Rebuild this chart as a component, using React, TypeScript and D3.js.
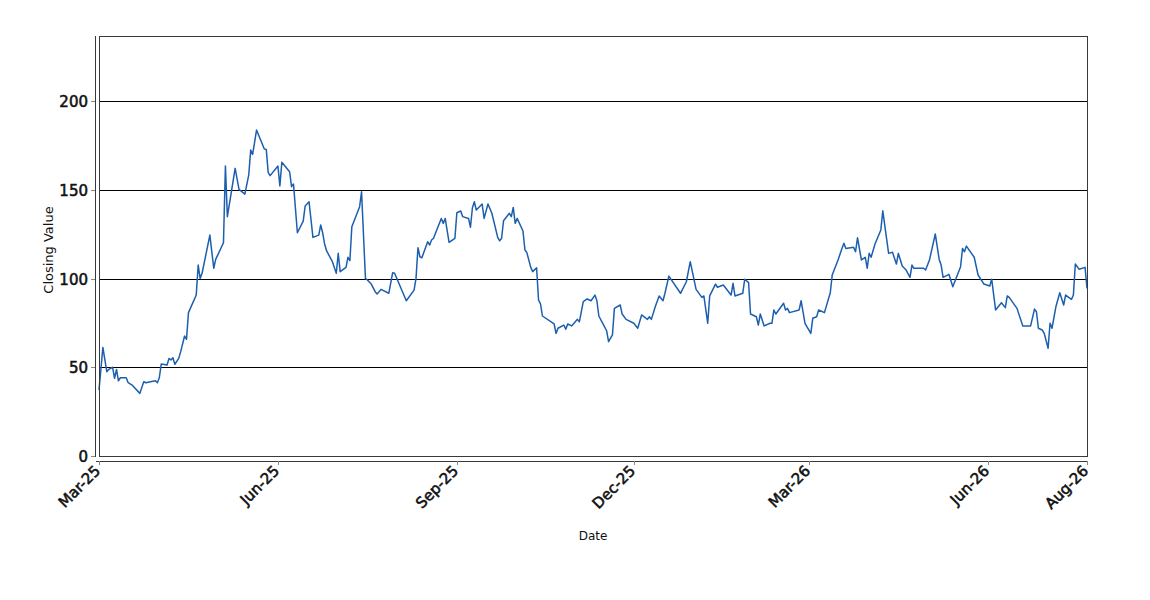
import React, { useEffect, useRef } from 'react';
import * as d3 from 'd3';

// closing values
const dates: string[] = [
  '2025-03-01', '2025-03-03', '2025-03-05', '2025-03-06', '2025-03-08', '2025-03-09', '2025-03-10', '2025-03-11',
  '2025-03-12', '2025-03-15', '2025-03-16', '2025-03-18', '2025-03-22', '2025-03-24', '2025-03-25', '2025-03-30',
  '2025-03-31', '2025-04-01', '2025-04-02', '2025-04-05', '2025-04-06', '2025-04-07', '2025-04-08', '2025-04-09',
  '2025-04-11', '2025-04-12', '2025-04-14', '2025-04-15', '2025-04-16', '2025-04-20', '2025-04-21', '2025-04-22',
  '2025-04-23', '2025-04-27', '2025-04-29', '2025-04-30', '2025-05-04', '2025-05-05', '2025-05-06', '2025-05-10',
  '2025-05-12', '2025-05-15', '2025-05-17', '2025-05-18', '2025-05-19', '2025-05-21', '2025-05-25', '2025-05-26',
  '2025-05-27', '2025-05-28', '2025-06-01', '2025-06-02', '2025-06-03', '2025-06-07', '2025-06-08', '2025-06-09',
  '2025-06-11', '2025-06-14', '2025-06-15', '2025-06-17', '2025-06-19', '2025-06-22', '2025-06-23', '2025-06-24',
  '2025-06-25', '2025-06-26', '2025-06-29', '2025-07-01', '2025-07-02', '2025-07-03', '2025-07-06', '2025-07-07',
  '2025-07-08', '2025-07-09', '2025-07-13', '2025-07-14', '2025-07-16', '2025-07-17', '2025-07-19', '2025-07-21',
  '2025-07-22', '2025-07-24', '2025-07-28', '2025-07-30', '2025-07-31', '2025-08-06', '2025-08-10', '2025-08-11',
  '2025-08-12', '2025-08-13', '2025-08-14', '2025-08-17', '2025-08-18', '2025-08-19', '2025-08-20', '2025-08-24',
  '2025-08-25', '2025-08-26', '2025-08-28', '2025-08-31', '2025-09-01', '2025-09-03', '2025-09-04', '2025-09-07',
  '2025-09-08', '2025-09-09', '2025-09-10', '2025-09-11', '2025-09-14', '2025-09-15', '2025-09-17', '2025-09-19',
  '2025-09-22', '2025-09-23', '2025-09-24', '2025-09-25', '2025-09-28', '2025-09-29', '2025-09-30', '2025-10-01',
  '2025-10-02', '2025-10-05', '2025-10-06', '2025-10-07', '2025-10-09', '2025-10-10', '2025-10-12', '2025-10-13',
  '2025-10-14', '2025-10-15', '2025-10-21', '2025-10-22', '2025-10-23', '2025-10-26', '2025-10-27', '2025-10-28',
  '2025-10-30', '2025-11-02', '2025-11-03', '2025-11-05', '2025-11-07', '2025-11-09', '2025-11-11', '2025-11-12',
  '2025-11-13', '2025-11-15', '2025-11-17', '2025-11-18', '2025-11-20', '2025-11-21', '2025-11-24', '2025-11-25',
  '2025-11-27', '2025-12-01', '2025-12-03', '2025-12-05', '2025-12-08', '2025-12-09', '2025-12-10', '2025-12-12',
  '2025-12-14', '2025-12-16', '2025-12-17', '2025-12-19', '2025-12-25', '2025-12-28', '2025-12-30', '2026-01-02',
  '2026-01-05', '2026-01-06', '2026-01-08', '2026-01-09', '2026-01-12', '2026-01-13', '2026-01-16', '2026-01-20',
  '2026-01-21', '2026-01-22', '2026-01-26', '2026-01-27', '2026-01-29', '2026-01-30', '2026-02-02', '2026-02-03',
  '2026-02-04', '2026-02-06', '2026-02-09', '2026-02-10', '2026-02-11', '2026-02-12', '2026-02-16', '2026-02-17',
  '2026-02-18', '2026-02-19', '2026-02-24', '2026-02-25', '2026-02-27', '2026-03-02', '2026-03-03', '2026-03-05',
  '2026-03-06', '2026-03-09', '2026-03-12', '2026-03-13', '2026-03-16', '2026-03-18', '2026-03-19', '2026-03-20',
  '2026-03-24', '2026-03-25', '2026-03-26', '2026-03-28', '2026-03-30', '2026-03-31', '2026-04-01', '2026-04-02',
  '2026-04-04', '2026-04-07', '2026-04-08', '2026-04-11', '2026-04-13', '2026-04-15', '2026-04-16', '2026-04-18',
  '2026-04-20', '2026-04-22', '2026-04-23', '2026-04-24', '2026-04-29', '2026-04-30', '2026-05-02', '2026-05-05',
  '2026-05-07', '2026-05-08', '2026-05-09', '2026-05-12', '2026-05-14', '2026-05-16', '2026-05-18', '2026-05-19',
  '2026-05-20', '2026-05-21', '2026-05-25', '2026-05-27', '2026-05-30', '2026-06-02', '2026-06-03', '2026-06-05',
  '2026-06-08', '2026-06-10', '2026-06-11', '2026-06-12', '2026-06-16', '2026-06-19', '2026-06-23', '2026-06-25',
  '2026-06-26', '2026-06-27', '2026-06-29', '2026-06-30', '2026-07-02', '2026-07-03', '2026-07-04', '2026-07-06',
  '2026-07-08', '2026-07-10', '2026-07-11', '2026-07-14', '2026-07-15', '2026-07-16', '2026-07-18', '2026-07-21',
  '2026-07-22',
];

const closing: number[] = [
  37.2, 61.2, 47.5, 48.8, 50.0, 43.8, 48.8, 42.4,
  44.1, 44.1, 41.3, 40.0, 35.3, 41.9, 41.3, 42.4,
  41.3, 44.1, 51.8, 51.3, 55.0, 54.1, 55.4, 51.7,
  55.0, 58.8, 67.6, 65.8, 80.8, 90.7, 107.6, 100.1,
  103.0, 124.5, 105.8, 110.8, 120.2, 163.4, 134.9, 162.1,
  150.3, 147.6, 158.4, 172.4, 170.0, 183.7, 173.0, 172.8,
  159.7, 158.0, 163.4, 152.2, 165.5, 160.2, 151.8, 153.3,
  125.8, 132.4, 140.9, 143.3, 123.2, 124.5, 130.2, 125.8,
  119.5, 115.7, 109.5, 103.0, 114.2, 103.9, 106.3, 112.0,
  110.1, 129.2, 140.5, 148.9, 100.1, 99.2, 96.9, 92.6,
  91.3, 93.9, 91.7, 103.3, 103.0, 87.5, 93.5, 100.1,
  117.4, 112.3, 111.7, 120.8, 118.9, 121.7, 122.7, 133.9,
  131.1, 133.9, 120.4, 122.7, 137.1, 138.1, 134.9, 133.9,
  128.9, 139.9, 143.3, 138.6, 142.0, 133.9, 142.0, 136.8,
  123.2, 121.3, 122.7, 132.6, 136.8, 134.9, 140.1, 131.1,
  133.9, 126.8, 116.1, 114.6, 106.3, 103.9, 106.1, 87.9,
  85.7, 78.9, 74.4, 69.1, 72.0, 73.8, 71.4, 74.4,
  73.3, 77.0, 75.7, 87.0, 88.5, 87.5, 90.7, 87.5,
  78.9, 74.8, 70.6, 64.4, 68.2, 83.2, 85.1, 80.0,
  77.0, 74.8, 72.0, 79.5, 77.0, 78.5, 77.0, 84.1,
  90.2, 87.5, 91.7, 101.4, 91.7, 98.2, 109.5, 93.9,
  89.4, 90.2, 74.8, 90.2, 96.9, 95.1, 96.4, 90.7,
  97.3, 90.2, 91.7, 99.6, 97.7, 80.0, 78.5, 73.8,
  80.0, 73.3, 74.8, 74.8, 82.3, 80.0, 86.1, 82.3,
  83.2, 80.8, 82.3, 87.5, 74.8, 69.1, 77.6, 78.5,
  82.3, 80.8, 92.0, 102.0, 110.5, 117.0, 119.9, 117.0,
  117.6, 115.1, 123.0, 110.5, 112.0, 105.8, 114.2, 112.0,
  119.5, 127.4, 138.2, 114.2, 114.8, 108.2, 114.2, 107.1,
  104.8, 100.7, 107.6, 105.8, 105.8, 104.8, 110.5, 125.1,
  110.8, 107.6, 100.7, 102.4, 95.4, 101.0, 106.7, 117.0,
  115.1, 118.3, 112.0, 102.0, 96.9, 95.8, 99.6, 82.3,
  86.4, 83.6, 90.2, 89.4, 83.2, 73.3, 73.3, 82.8,
  81.3, 72.0, 71.0, 69.1, 60.7, 74.8, 72.0, 84.1,
  92.0, 85.1, 90.7, 88.3, 90.7, 108.2, 105.2, 106.3,
  94.5,
];

const yTicks = [0, 50, 100, 150, 200];
const xTickDates = ['2025-03-01', '2025-06-01', '2025-09-01', '2025-12-01', '2026-03-01', '2026-06-01', '2026-07-22'];
const xTickLabels = ['Mar-25', 'Jun-25', 'Sep-25', 'Dec-25', 'Mar-26', 'Jun-26', 'Aug-26'];

const WIDTH = 1150;
const HEIGHT = 600;
const PLOT = { left: 99, top: 36, right: 1087, bottom: 456 };
const Y_MAX = 236.7;
const FONT = '"DejaVu Sans", sans-serif';

const App: React.FC = () => {
  const svgRef = useRef<SVGSVGElement>(null);

  useEffect(() => {
    if (!svgRef.current) return;
    const svg = d3.select(svgRef.current);
    svg.selectAll('*').remove();

    const parse = d3.utcParse('%Y-%m-%d');
    const data = dates.map((d, i) => ({ date: parse(d) as Date, value: closing[i] }));

    const x = d3.scaleUtc()
      .domain([parse(xTickDates[0]) as Date, parse(xTickDates[xTickDates.length - 1]) as Date])
      .range([PLOT.left, PLOT.right]);
    const y = d3.scaleLinear().domain([0, Y_MAX]).range([PLOT.bottom, PLOT.top]);

    svg.append('rect')
      .attr('width', WIDTH).attr('height', HEIGHT).attr('fill', '#fff');

    // gridlines (0 sits on the plot border)
    svg.append('g')
      .selectAll('line')
      .data(yTicks.filter(t => t > 0))
      .join('line')
      .attr('x1', PLOT.left).attr('x2', PLOT.right)
      .attr('y1', d => Math.round(y(d)) + 0.5).attr('y2', d => Math.round(y(d)) + 0.5)
      .attr('stroke', '#000').attr('stroke-width', 1);

    // series
    const line = d3.line<{ date: Date; value: number }>()
      .x(d => x(d.date))
      .y(d => y(d.value));

    svg.append('path')
      .datum(data)
      .attr('d', line)
      .attr('fill', 'none')
      .attr('stroke', '#1c5fae')
      .attr('stroke-width', 1.5)
      .attr('stroke-linejoin', 'round');

    // plot outline
    svg.append('rect')
      .attr('x', PLOT.left + 0.5).attr('y', PLOT.top + 0.5)
      .attr('width', PLOT.right - PLOT.left).attr('height', PLOT.bottom - PLOT.top)
      .attr('fill', 'none').attr('stroke', '#3a3a3a').attr('stroke-width', 1);

    // tick label style: regular weight with a hairline stroke to look medium
    const tickText = (sel: d3.Selection<SVGTextElement, unknown, null, undefined>) =>
      sel.attr('font-family', FONT).attr('font-size', 15)
        .attr('fill', '#111').attr('stroke', '#111').attr('stroke-width', 0.55);

    // y axis, offset to the left of the plot
    const yAxisX = PLOT.left - 4;
    svg.append('line')
      .attr('x1', yAxisX + 0.5).attr('x2', yAxisX + 0.5)
      .attr('y1', PLOT.top).attr('y2', PLOT.bottom + 1)
      .attr('stroke', '#3a3a3a');
    const yg = svg.append('g');
    yTicks.forEach(t => {
      const yy = Math.round(y(t)) + 0.5;
      yg.append('line')
        .attr('x1', yAxisX - 4).attr('x2', yAxisX)
        .attr('y1', yy).attr('y2', yy)
        .attr('stroke', '#888');
      yg.append('text')
        .attr('x', yAxisX - 7).attr('y', yy)
        .attr('dy', '0.36em')
        .attr('text-anchor', 'end')
        .call(tickText)
        .text(String(t));
    });

    // x axis, offset below the plot
    const xAxisY = PLOT.bottom + 5;
    svg.append('line')
      .attr('x1', PLOT.left - 3).attr('x2', PLOT.right + 1)
      .attr('y1', xAxisY + 0.5).attr('y2', xAxisY + 0.5)
      .attr('stroke', '#3a3a3a');
    const xg = svg.append('g');
    xTickDates.forEach((d, i) => {
      const xx = Math.round(x(parse(d) as Date)) + 0.5;
      xg.append('line')
        .attr('x1', xx).attr('x2', xx)
        .attr('y1', xAxisY).attr('y2', xAxisY + 4)
        .attr('stroke', '#888');
      xg.append('text')
        .attr('transform', `translate(${xx - 2},${xAxisY + 7}) rotate(-45)`)
        .attr('text-anchor', 'end')
        .attr('dy', '0.36em')
        .call(tickText)
        .text(xTickLabels[i]);
    });

    // axis titles
    svg.append('text')
      .attr('transform', `translate(53,250) rotate(-90)`)
      .attr('text-anchor', 'middle')
      .attr('font-family', FONT).attr('font-size', 13)
      .attr('fill', '#111')
      .text('Closing Value');

    svg.append('text')
      .attr('x', (PLOT.left + PLOT.right) / 2).attr('y', 540)
      .attr('text-anchor', 'middle')
      .attr('font-family', FONT).attr('font-size', 12)
      .attr('fill', '#111')
      .text('Date');
  }, []);

  return (
    <>
      <style>{'body{margin:0}'}</style>
      <svg ref={svgRef} width={WIDTH} height={HEIGHT} style={{ display: 'block' }} />
    </>
  );
};

export default App;
